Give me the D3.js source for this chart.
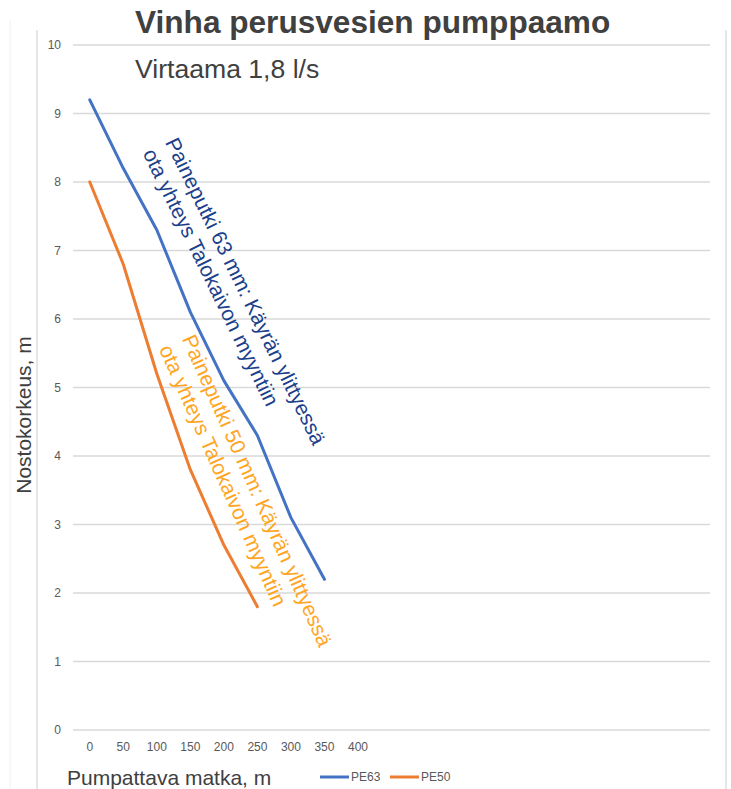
<!DOCTYPE html>
<html>
<head>
<meta charset="utf-8">
<script src="https://cdn.jsdelivr.net/npm/d3@7"></script>
<style>
	body { margin: 0; background: #fff; }
	svg { display: block; font-family: "Liberation Sans", Arial, sans-serif; }
	.grid { stroke: #d9d9d9; stroke-width: 1.3; }
	.tick-label { fill: #595959; font-size: 12px; }
</style>
</head>
<body>
<svg class="chart"></svg>
<script>
// chart data
const distances = [0, 50, 100, 150, 200, 250, 300, 350];
const pe63 = [9.2, 8.2, 7.3, 6.1, 5.1, 4.3, 3.1, 2.2];
const pe50 = [8.0, 6.8, 5.2, 3.8, 2.7, 1.8];
const xTicks = [0, 50, 100, 150, 200, 250, 300, 350, 400];
const yTicks = [0, 1, 2, 3, 4, 5, 6, 7, 8, 9, 10];
const seriesNames = ["PE63", "PE50"];
const seriesColors = ["#4472C4", "#ED7D31"];

const size = { w: 731, h: 789 };
const plot = { l: 73, r: 710, t: 45, b: 730 };

const svg = d3.select("svg.chart").attr("width", size.w).attr("height", size.h);

const xScale = d3.scaleLinear().domain([-25, 925]).range([plot.l, plot.r]);
const yScale = d3.scaleLinear().domain([0, 10]).range([plot.b, plot.t]);

// frame lines
svg.append("line")
	.attr("x1", 10).attr("x2", 10).attr("y1", 20).attr("y2", size.h)
	.attr("stroke", "#f2f2f2").attr("stroke-width", 1);
svg.append("line")
	.attr("x1", 37).attr("x2", 37).attr("y1", 30).attr("y2", size.h)
	.attr("stroke", "#d9d9d9").attr("stroke-width", 1.3);
svg.append("line")
	.attr("x1", 726).attr("x2", 726).attr("y1", 30).attr("y2", size.h)
	.attr("stroke", "#d9d9d9").attr("stroke-width", 1.3);

// horizontal grid
const gridG = svg.append("g");
gridG.selectAll("line")
	.data(yTicks)
	.join("line")
	.classed("grid", true)
	.attr("x1", plot.l)
	.attr("x2", plot.r)
	.attr("y1", (d) => yScale(d))
	.attr("y2", (d) => yScale(d));

// y tick labels
svg.append("g")
	.selectAll("text")
	.data(yTicks)
	.join("text")
	.classed("tick-label", true)
	.attr("x", 61)
	.attr("y", (d) => yScale(d))
	.attr("dy", "0.35em")
	.attr("text-anchor", "end")
	.text((d) => d);

// x tick labels
svg.append("g")
	.selectAll("text")
	.data(xTicks)
	.join("text")
	.classed("tick-label", true)
	.attr("x", (d) => xScale(d))
	.attr("y", 751)
	.attr("text-anchor", "middle")
	.text((d) => d);

// series lines
const line = d3.line()
	.x((d) => xScale(d[0]))
	.y((d) => yScale(d[1]));

const series = [
	d3.zip(distances.slice(0, pe63.length), pe63),
	d3.zip(distances.slice(0, pe50.length), pe50),
];

svg.append("g")
	.selectAll("path")
	.data(series)
	.join("path")
	.attr("d", (d) => line(d))
	.attr("fill", "none")
	.attr("stroke", (d, i) => seriesColors[i])
	.attr("stroke-width", 3)
	.attr("stroke-linejoin", "round")
	.attr("stroke-linecap", "round");

// rotated notes next to the curves
function drawNote(xVal, yVal, angle, color, lines) {
	const t = svg.append("text")
		.attr("transform", `translate(${xScale(xVal)},${yScale(yVal)}) rotate(${angle})`)
		.attr("fill", color)
		.style("font-size", "21px");
	lines.forEach((txt, i) => {
		t.append("tspan").attr("x", 0).attr("dy", i === 0 ? 0 : 25).text(txt);
	});
}
drawNote(112, 8.58, 64, "#1B3F8B", ["Paineputki 63 mm: Käyrän ylittyessä", "ota yhteys Talokaivon myyntiin"]);
drawNote(137, 5.71, 66, "#FFA51F", ["Paineputki 50 mm: Käyrän ylittyessä", "ota yhteys Talokaivon myyntiin"]);

// titles
svg.append("text")
	.attr("x", 135).attr("y", 33)
	.attr("fill", "#404040")
	.style("font-size", "31.6px").style("font-weight", "bold")
	.text("Vinha perusvesien pumppaamo");
svg.append("text")
	.attr("x", 135).attr("y", 78)
	.attr("fill", "#404040")
	.style("font-size", "26.6px")
	.text("Virtaama 1,8 l/s");

// axis titles
svg.append("text")
	.attr("transform", "translate(31,415) rotate(-90)")
	.attr("text-anchor", "middle")
	.attr("fill", "#404040")
	.style("font-size", "21px")
	.text("Nostokorkeus, m");
svg.append("text")
	.attr("x", 67).attr("y", 785)
	.attr("fill", "#404040")
	.style("font-size", "21px")
	.text("Pumpattava matka, m");

// legend
const legendX = [320, 390];
const legend = svg.append("g")
	.selectAll("g")
	.data(seriesNames)
	.join("g")
	.attr("transform", (d, i) => `translate(${legendX[i]},777)`);
legend.append("line")
	.attr("x1", 0).attr("x2", 29)
	.attr("stroke", (d, i) => seriesColors[i])
	.attr("stroke-width", 3);
legend.append("text")
	.attr("x", 31).attr("dy", "0.35em")
	.attr("fill", "#595959")
	.style("font-size", "12px")
	.text((d) => d);
</script>
</body>
</html>
